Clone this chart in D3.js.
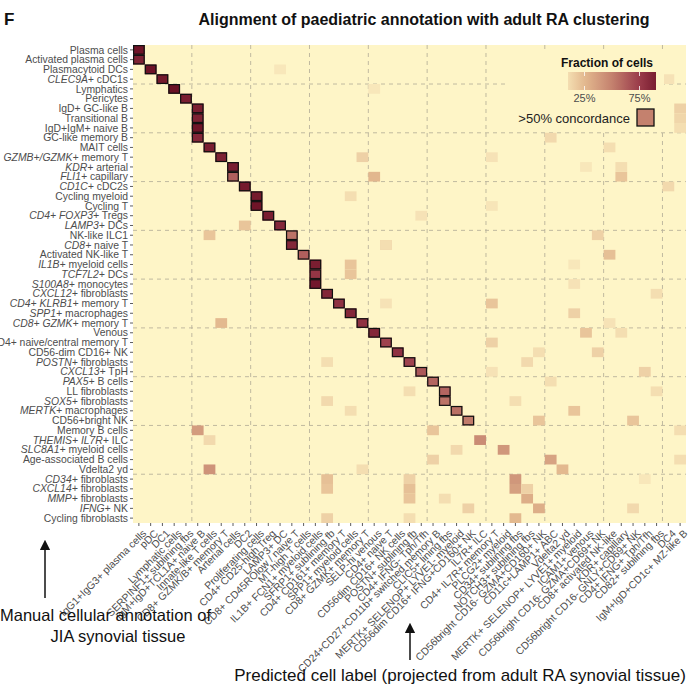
<!DOCTYPE html>
<html>
<head>
<meta charset="utf-8">
<script src="https://cdn.jsdelivr.net/npm/d3@7"></script>
<style>
  html, body { margin: 0; padding: 0; background: #fff; }
  svg { display: block; font-family: "Liberation Sans", Arial, Helvetica, sans-serif; }
</style>
</head>
<body>
<svg id="chart" width="696" height="685"></svg>
<script>
// Row labels: manual annotation of JIA synovial tissue (top to bottom).
// Text between asterisks is set in italics (gene names).
const rowLabels = [
  "Plasma cells", "Activated plasma cells", "Plasmacytoid DCs", "*CLEC9A+* cDC1s",
  "Lymphatics", "Pericytes", "IgD+ GC-like B", "Transitional B", "IgD+IgM+ naive B",
  "GC-like memory B", "MAIT cells", "*GZMB+/GZMK+* memory T", "*KDR+* arterial",
  "*FLI1+* capillary", "*CD1C+* cDC2s", "Cycling myeloid", "Cycling T",
  "*CD4+ FOXP3+* Tregs", "*LAMP3+* DCs", "NK-like ILC1", "*CD8+* naive T",
  "Activated NK-like T", "*IL1B+* myeloid cells", "*TCF7L2+* DCs",
  "*S100A8+* monocytes", "*CXCL12+* fibroblasts", "*CD4+ KLRB1+* memory T",
  "*SPP1+* macrophages", "*CD8+ GZMK+* memory T", "Venous",
  "CD4+ naive/central memory T", "CD56-dim CD16+ NK", "*POSTN+* fibroblasts",
  "*CXCL13+* TpH", "*PAX5+* B cells", "LL fibroblasts", "*SOX5+* fibroblasts",
  "*MERTK+* macrophages", "CD56+bright NK", "Memory B cells",
  "*THEMIS+ IL7R+* ILC", "*SLC8A1+* myeloid cells", "Age-associated B cells",
  "Vdelta2 yd", "*CD34+* fibroblasts", "*CXCL14+* fibroblasts", "*MMP+* fibroblasts",
  "*IFNG+* NK", "Cycling fibroblasts"
];

// Column labels: predicted adult RA cell state (left to right).
const colLabels = [
  "IgG1+IgG3+ plasma cells", "pDC", "DC1", "Lymphatic cells", "SERPINF1+ sublining fbs",
  "IgM+IgD+TCL1A+ naive B", "Innate-like T cells", "CD8+ GZMK/B+ memory T",
  "Arterial cells", "DC2", "Proliferating cells", "CD4+ CD25-high Treg", "LAMP3+ DC",
  "CD8+ CD45ROlow / naive T", "MT-high T cells", "IL1B+ FCN1+ myeloid cells",
  "SFRP1+ sublining fb", "CD4+ CD161+ memory T", "SPP1+ myeloid cells",
  "CD8+ GZMK+ memory T", "SELP-hi venous", "CD4+ naive T", "CD56dim CD16+ NK cells",
  "POSTN+ sublining fb", "CD4+ IFNG- Tph/Tfh", "CD24+CD27+CD11b+ switched memory B",
  "CLIC5+ lining fbs", "MERTK+ SELENOP+ LYVE1- myeloid", "CD56dim CD16+ IFNG+CD160+ NK",
  "IL7R+ ILC", "CD4+ IL7R+ memory T", "PLCG2+ myeloid", "CD34+ sublining fbs",
  "NOTCH3+ sublining fbs", "CD56bright CD16- GZMA+CD160+ NK", "CD11c+LAMP1+ ABC",
  "Vdelta2 yd", "MERTK+ SELENOP+ LYVE1+ myeloid", "ICAM1+ venous",
  "CD56bright CD16- GZMA+CD69+ NK", "CD8+ activated NK-like", "KDR+ capillary",
  "CD56bright CD16- GNLY+CD69+ NK", "CD4+ IFNG+ Tph/Tfh", "CD82+ sublining fbs",
  "DC4", "IgM+IgD+CD1c+ MZ-like B"
];

// Fraction of cells: [row index, column index, fraction]
const cells = [
  // best-matching states
  [0,0,0.95],[1,0,0.88],[2,1,0.96],[3,2,0.92],[4,3,0.97],[5,4,0.9],
  [6,5,0.9],[7,5,0.88],[8,5,0.95],[9,5,0.85],[10,6,0.9],[11,7,0.88],
  [12,8,0.9],[13,8,0.62],[14,9,0.92],[15,10,0.92],[16,10,0.95],[17,11,0.9],
  [18,12,0.85],[19,13,0.55],[20,13,0.85],[21,14,0.62],[22,15,0.9],[23,15,0.78],
  [24,15,0.93],[25,16,0.85],[26,17,0.8],[27,18,0.85],[28,19,0.8],[29,20,0.85],
  [30,21,0.72],[31,22,0.8],[32,23,0.72],[33,24,0.65],[34,25,0.6],[35,26,0.6],
  [36,26,0.55],[37,27,0.56],[38,28,0.52],
  // lower rows, partial matches
  [39,5,0.38],[39,25,0.2],[40,29,0.45],[41,31,0.4],[42,35,0.35],[43,6,0.42],
  [43,36,0.25],[44,32,0.4],[44,16,0.22],[45,32,0.36],[45,16,0.2],[45,23,0.22],
  [46,33,0.3],[46,23,0.2],[47,34,0.3],[48,32,0.25],[48,16,0.15],
  // weaker off-target assignments
  [6,46,0.15],[7,46,0.13],[8,46,0.1],[13,20,0.26],[18,9,0.2],[22,18,0.2],
  [23,18,0.2],[28,7,0.25],[26,30,0.2],[21,40,0.22],[29,38,0.2],[13,41,0.2],
  [12,41,0.1],[30,30,0.15],[33,43,0.15],[14,45,0.12],[27,37,0.15],[37,37,0.2],
  [25,44,0.1],[32,33,0.12],[31,39,0.15],[31,34,0.1],[38,42,0.2],[38,34,0.2],
  [19,39,0.15],[47,28,0.15],[9,35,0.12],[42,25,0.15],[39,46,0.1],[11,19,0.15],
  [10,40,0.1],[20,21,0.15],[5,33,0.15],[44,23,0.15],[46,26,0.1],[35,44,0.1],
  [24,37,0.08],[16,30,0.07],[3,45,0.08],[17,24,0.08],[15,18,0.1],[2,12,0.06],
  [11,30,0.08],[19,6,0.2],[20,21,0.1],[26,21,0.08],[36,16,0.12],[36,32,0.1],
  [33,30,0.08],[34,35,0.1],[40,6,0.12],[41,27,0.12],[42,46,0.1],[43,19,0.1],
  [47,42,0.12],[48,23,0.1],[45,33,0.15],[44,43,0.06],[29,41,0.1],[4,20,0.06],
  [12,38,0.06],[28,40,0.08],[32,16,0.1],[35,23,0.1],[37,18,0.1],[22,37,0.06]
];

// Colour bar tick labels
const legendTicks = [0.25, 0.75];
const legendTickLabels = ["25%", "75%"];

const svg = d3.select("#chart");
const W = 696, H = 685;
const margin = { left: 133, right: 10, top: 45, bottom: 162 };
const x0 = margin.left, x1 = W - margin.right, y0 = margin.top, y1 = H - margin.bottom;

const x = d3.scaleBand().domain(d3.range(colLabels.length)).range([x0, x1]).padding(0);
const y = d3.scaleBand().domain(d3.range(rowLabels.length)).range([y0, y1]).padding(0);

const color = d3.scaleLinear()
  .domain([0, 0.25, 0.5, 0.75, 1])
  .range(["#FFF6C8", "#E3B98F", "#C4816E", "#9A3B4A", "#640A20"])
  .clamp(true);

const panelFill = "#FEF5C7";
const gridColor = "#B9B29B";

// Panel background
svg.append("rect").attr("x", x0).attr("y", y0)
  .attr("width", x1 - x0).attr("height", y1 - y0).attr("fill", panelFill);

// Dashed guide lines every five rows (counted from the bottom) and five columns
const nR = rowLabels.length, nC = colLabels.length;
const grid = svg.append("g").attr("stroke", gridColor).attr("stroke-width", 0.9)
  .attr("stroke-dasharray", "4,4").attr("fill", "none");
d3.range(5, nR, 5).forEach(k => {
  const yy = y(nR - k);
  grid.append("line").attr("x1", x0).attr("x2", x1).attr("y1", yy).attr("y2", yy);
});
d3.range(5, nC, 5).forEach(k => {
  const xx = x(k);
  grid.append("line").attr("y1", y0).attr("y2", y1).attr("x1", xx).attr("x2", xx);
});

// Tiles
svg.append("g").selectAll("rect").data(cells).join("rect")
  .attr("x", d => x(d[1])).attr("y", d => y(d[0]))
  .attr("width", x.bandwidth()).attr("height", y.bandwidth())
  .attr("fill", d => color(d[2]));

// Concordance outlines (> 50 %)
svg.append("g").selectAll("rect").data(cells.filter(d => d[2] > 0.5)).join("rect")
  .attr("x", d => x(d[1]) + 0.6).attr("y", d => y(d[0]) + 0.6)
  .attr("width", x.bandwidth() - 1.2).attr("height", y.bandwidth() - 1.2)
  .attr("fill", "none").attr("stroke", "#111").attr("stroke-width", 1.2);

// Axes
const axisColor = "#4D4D4D";
const yAxis = svg.append("g").attr("transform", `translate(${x0},0)`)
  .call(d3.axisLeft(y).tickSize(3).tickPadding(2).tickFormat(() => ""));
const xAxis = svg.append("g").attr("transform", `translate(0,${y1})`)
  .call(d3.axisBottom(x).tickSize(3).tickFormat(() => ""));
[yAxis, xAxis].forEach(a => {
  a.select(".domain").remove();
  a.selectAll(".tick line").attr("stroke", "#333").attr("stroke-width", 0.8);
});

// Row labels with italic gene names
function addRich(textSel, label) {
  const parts = label.split("*");
  parts.forEach((p, i) => {
    if (!p) return;
    textSel.append("tspan").attr("font-style", i % 2 === 1 ? "italic" : "normal").text(p);
  });
}
const rowText = svg.append("g").attr("font-size", 10.4).attr("fill", axisColor);
rowLabels.forEach((lab, i) => {
  const t = rowText.append("text")
    .attr("x", x0 - 5).attr("y", y(i) + y.bandwidth() / 2)
    .attr("dy", "0.35em").attr("text-anchor", "end");
  addRich(t, lab);
});

// Column labels, rotated 45 degrees
const colText = svg.append("g").attr("font-size", 10.4).attr("fill", axisColor);
colLabels.forEach((lab, i) => {
  const cx = x(i) + x.bandwidth() / 2;
  colText.append("text")
    .attr("transform", `translate(${cx + 3},${y1 + 6}) rotate(-45)`)
    .attr("text-anchor", "end").attr("dy", "0.7em").text(lab);
});

// Title and panel tag
svg.append("text").attr("x", 4).attr("y", 25).attr("font-size", 17)
  .attr("font-weight", "bold").attr("fill", "#111").text("F");
svg.append("text").attr("x", 424).attr("y", 25).attr("text-anchor", "middle")
  .attr("font-size", 16).attr("font-weight", "bold").attr("fill", "#111")
  .text("Alignment of paediatric annotation with adult RA clustering");

// Legend
const lg = svg.append("g");
lg.append("rect").attr("x", 508).attr("y", 50).attr("width", 156).attr("height", 82).attr("fill", panelFill);
lg.append("text").attr("x", 607).attr("y", 67).attr("text-anchor", "middle")
  .attr("font-size", 12).attr("font-weight", "bold").attr("fill", "#111").text("Fraction of cells");
const defs = svg.append("defs");
const grad = defs.append("linearGradient").attr("id", "fracGrad");
d3.range(0, 1.0001, 0.05).forEach(t => {
  grad.append("stop").attr("offset", t).attr("stop-color", color(0.1 + t * 0.8));
});
const barX = 568, barW = 88, barY = 72, barH = 18;
lg.append("rect").attr("x", barX).attr("y", barY).attr("width", barW).attr("height", barH)
  .attr("fill", "url(#fracGrad)");
const lx = d3.scaleLinear().domain([0.1, 0.9]).range([barX, barX + barW]);
legendTicks.forEach((v, i) => {
  lg.append("line").attr("x1", lx(v)).attr("x2", lx(v)).attr("y1", barY).attr("y2", barY + 4)
    .attr("stroke", "#fff").attr("stroke-width", 0.8);
  lg.append("line").attr("x1", lx(v)).attr("x2", lx(v)).attr("y1", barY + barH - 4).attr("y2", barY + barH)
    .attr("stroke", "#fff").attr("stroke-width", 0.8);
  lg.append("text").attr("x", lx(v)).attr("y", barY + barH + 12).attr("text-anchor", "middle")
    .attr("font-size", 11).attr("fill", axisColor).text(legendTickLabels[i]);
});
lg.append("text").attr("x", 630).attr("y", 123).attr("text-anchor", "end")
  .attr("font-size", 13).attr("fill", "#222").text(">50% concordance");
lg.append("rect").attr("x", 637).attr("y", 109).attr("width", 17).attr("height", 17)
  .attr("fill", color(0.5)).attr("stroke", "#111").attr("stroke-width", 1.3);

// Axis annotations with arrows
defs.append("marker").attr("id", "arrowHead").attr("viewBox", "0 0 10 10")
  .attr("refX", 5).attr("refY", 5).attr("markerWidth", 7).attr("markerHeight", 7)
  .attr("orient", "auto-start-reverse")
  .append("path").attr("d", "M0,0 L10,5 L0,10 z").attr("fill", "#111");
svg.append("line").attr("x1", 45).attr("x2", 45).attr("y1", 598).attr("y2", 545)
  .attr("stroke", "#111").attr("stroke-width", 1.5).attr("marker-end", "url(#arrowHead)");
svg.append("line").attr("x1", 410).attr("x2", 410).attr("y1", 660).attr("y2", 628)
  .attr("stroke", "#111").attr("stroke-width", 1.5).attr("marker-end", "url(#arrowHead)");
svg.append("text").attr("x", 0).attr("y", 621).attr("text-anchor", "start")
  .attr("font-size", 16.5).attr("fill", "#111").text("Manual cellular annotation of");
svg.append("text").attr("x", 118).attr("y", 642).attr("text-anchor", "middle")
  .attr("font-size", 16.5).attr("fill", "#111").text("JIA synovial tissue");
svg.append("text").attr("x", 460).attr("y", 681).attr("text-anchor", "middle")
  .attr("font-size", 17).attr("fill", "#111")
  .text("Predicted cell label (projected from adult RA synovial tissue)");
</script>
</body>
</html>
